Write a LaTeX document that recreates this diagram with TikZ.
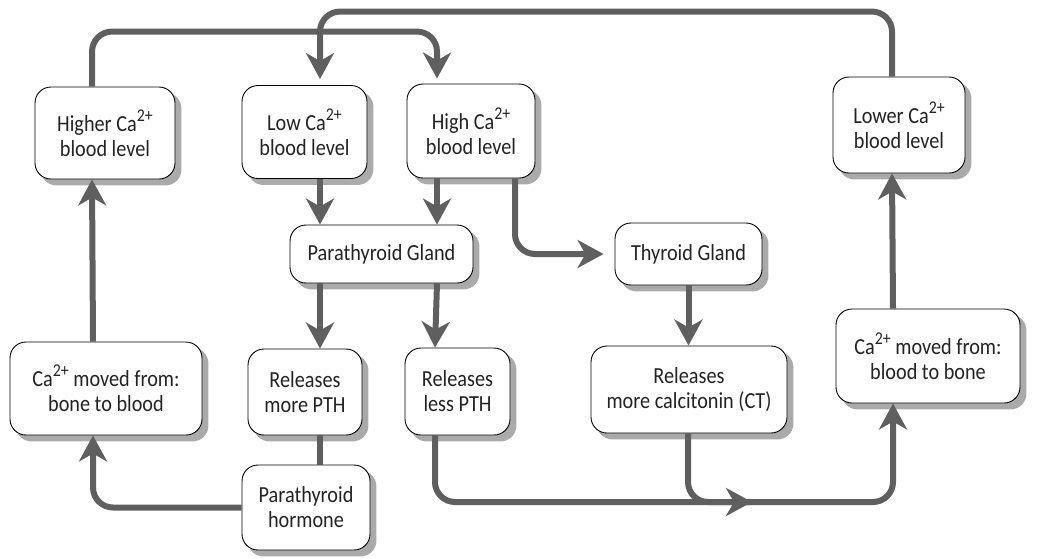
\documentclass[tikz,border=0pt]{standalone}
\usepackage{fontspec}
\setmainfont{Carlito}[FakeStretch=0.88]
\usetikzlibrary{arrows.meta,calc,backgrounds}
\definecolor{arrgray}{RGB}{95,95,95}
\definecolor{shadowgray}{RGB}{170,170,170}
\definecolor{txt}{RGB}{35,35,35}
\tikzset{
  box/.style={draw=black, line width=0.9pt, rounded corners=16pt, fill=white,
    align=center, inner sep=0pt, text=txt,
    font=\fontsize{23}{25}\selectfont},
  conn/.style={draw=arrgray, line width=6pt, rounded corners=20pt},
  arr/.style={-{Stealth[length=26pt,width=28pt,inset=8pt]}},
}
\newcommand{\ca}{Ca\raisebox{0.42em}{\fontsize{18}{18}\selectfont 2+}}
\begin{document}
\begin{tikzpicture}[x=1pt,y=-1pt]
\useasboundingbox (0,0) rectangle (1046,558);

\node[box, minimum width=140pt, minimum height=92pt] (higher) at (105,133) {Higher \ca\\blood level};
\node[box, minimum width=125pt, minimum height=93pt] (low) at (304.5,132) {Low \ca\\blood level};
\node[box, minimum width=128pt, minimum height=94pt] (high) at (471,131) {High \ca\\blood level};
\node[box, minimum width=183pt, minimum height=58pt] (pgland) at (381.5,254) {Parathyroid Gland};
\node[box, minimum width=147pt, minimum height=62pt] (thyroid) at (688.5,254) {Thyroid Gland};
\node[box, minimum width=132pt, minimum height=96pt] (lower) at (899,125) {Lower \ca\\blood level};
\node[box, minimum width=192pt, minimum height=93pt] (bonetoblood) at (106,388.5) {\ca{} moved from:\\bone to blood};
\node[box, minimum width=114pt, minimum height=86pt] (morepth) at (305,392) {Releases\\more PTH};
\node[box, minimum width=105pt, minimum height=87pt] (lesspth) at (457.5,391.5) {Releases\\less PTH};
\node[box, minimum width=196pt, minimum height=87pt] (calc) at (689,389.5) {Releases\\more calcitonin (CT)};
\node[box, minimum width=184pt, minimum height=94pt] (bloodtobone) at (928,356) {\ca{} moved from:\\blood to bone};
\node[box, minimum width=128pt, minimum height=85pt] (hormone) at (306,507.5) {Parathyroid\\hormone};

\begin{scope}[on background layer]
\foreach \n in {higher,low,high,pgland,thyroid,lower,bonetoblood,morepth,lesspth,calc,bloodtobone,hormone}{
  \fill[shadowgray, rounded corners=16pt] ($(\n.south west)+(6,6)$) rectangle ($(\n.north east)+(6,6)$);
}
\end{scope}

\coordinate (m) at (752,502);

% top loops
\draw[conn, arr, shorten >=5pt] ([xshift=-13pt]higher.north) -- ++(0,-55) -| ([xshift=-34pt]high.north);
\draw[conn, arr, shorten >=6pt] ([xshift=-7pt]lower.north) -- ++(0,-65) -| ([xshift=15.5pt]low.north);

% to parathyroid gland
\draw[conn, arr] ([xshift=15.5pt]low.south) -- ([xshift=-61.5pt]pgland.north);
\draw[conn, arr] ([xshift=-34pt]high.south) -- ([xshift=55.5pt]pgland.north);
% to thyroid gland
\draw[conn, arr, shorten >=11pt] ([xshift=44pt]high.south) |- (thyroid.west);

% from glands
\draw[conn, arr] ([xshift=-61.5pt]pgland.south) -- ([xshift=15pt]morepth.north);
\draw[conn, arr] ([xshift=55.5pt]pgland.south) -- ([xshift=-22.5pt]lesspth.north);
\draw[conn, arr] (thyroid.south) -- ([xshift=-0.5pt]calc.north);

% PTH to hormone
\draw[conn] ([xshift=15pt]morepth.south) -- ([xshift=14pt]hormone.north);
% hormone to bone-to-blood
\draw[conn, arr] (hormone.west) -| ([xshift=-13pt]bonetoblood.south);
% bone-to-blood to higher
\draw[conn, arr] ([xshift=-13pt]bonetoblood.north) -- ([xshift=-13pt]higher.south);

% bottom line
\draw[conn] ([xshift=-22.5pt]lesspth.south) |- (m);
\draw[conn] ([xshift=-1pt]calc.south) |- (m);
\draw[conn, arr] (m) -| ([xshift=-35pt]bloodtobone.south);
\draw[conn, arr] ($(m)+(-20,0)$) -- (m);
% blood-to-bone to lower
\draw[conn, arr] ([xshift=-35pt]bloodtobone.north) -- ([xshift=-7pt]lower.south);
\end{tikzpicture}
\end{document}
